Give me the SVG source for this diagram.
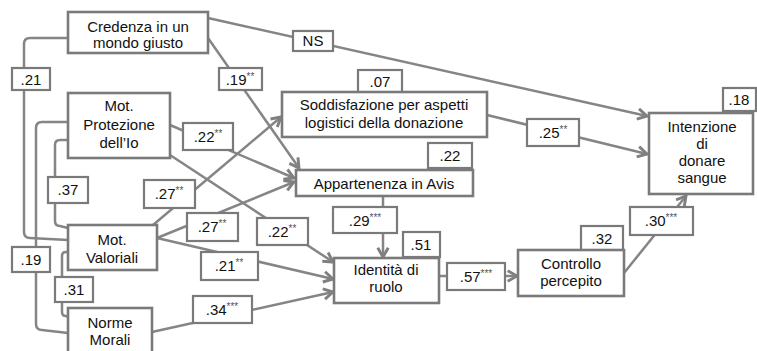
<svg xmlns="http://www.w3.org/2000/svg" width="757" height="351" viewBox="0 0 757 351">
<defs>
<marker id="arr" markerUnits="userSpaceOnUse" markerWidth="14" markerHeight="14" viewBox="0 0 12 12" refX="10" refY="6" orient="auto">
<path d="M2,1.5 L10,6 L2,10.5" fill="none" stroke="#808080" stroke-width="2.5"/>
</marker>
</defs>
<style>
.node{fill:#fff;stroke:#7a7a7a;stroke-width:2.6}
.lab{fill:#fff;stroke:#7a7a7a;stroke-width:2.2}
.t{font-family:"Liberation Sans",Arial,sans-serif;font-size:15px;fill:#111;text-anchor:middle}
.s{font-size:10px;fill:#555}
.c{fill:none;stroke:#858585;stroke-width:2.5}
</style>
<rect width="757" height="351" fill="#fff"/>
<g id="connectors">
<path class="c" d="M68,38 L30,38 Q24,38 24,44 L24,232 Q24,238 30,238 L68,240"/>
<path class="c" d="M68,122 L42,122 Q36,122 36,128 L36,324 Q36,330 42,330 L68,333"/>
<path class="c" d="M68,140 L60,140 Q55,140 55,145 L55,221 Q55,226 60,226 L68,228"/>
<path class="c" d="M68,252 L66,252 Q62,252 62,256 L62,312 Q62,316 66,316 L68,317"/>
<path class="c" d="M208,18 L647,116" marker-end="url(#arr)"/>
<path class="c" d="M208,38 L299,168" marker-end="url(#arr)"/>
<path class="c" d="M170,125 L294,178" marker-end="url(#arr)"/>
<path class="c" d="M170,155 L333,262" marker-end="url(#arr)"/>
<path class="c" d="M153,225 L281,117" marker-end="url(#arr)"/>
<path class="c" d="M157,238 L294,182" marker-end="url(#arr)"/>
<path class="c" d="M157,238 L333,279" marker-end="url(#arr)"/>
<path class="c" d="M152,332 L333,292" marker-end="url(#arr)"/>
<path class="c" d="M487,115 L647,154" marker-end="url(#arr)"/>
<path class="c" d="M383,196 L383,257" marker-end="url(#arr)"/>
<path class="c" d="M439,276 L517,276" marker-end="url(#arr)"/>
<path class="c" d="M624,273 L686,196" marker-end="url(#arr)"/>
</g>
<g id="labels">
<rect class="lab" x="12" y="68" width="38" height="22"/><text class="t" x="31" y="85">.21</text>
<rect class="lab" x="12" y="247" width="38" height="25"/><text class="t" x="31" y="265">.19</text>
<rect class="lab" x="48" y="177" width="40" height="26"/><text class="t" x="68" y="195">.37</text>
<rect class="lab" x="55" y="277" width="38" height="25"/><text class="t" x="74" y="295">.31</text>
<rect class="lab" x="293" y="31" width="40" height="20"/><text class="t" x="313" y="46">NS</text>
<rect class="lab" x="219" y="68" width="43" height="22"/><text class="t" x="240" y="85">.19<tspan class="s" dy="-5">**</tspan></text>
<rect class="lab" x="183" y="123" width="50" height="27"/><text class="t" x="208" y="142">.22<tspan class="s" dy="-5">**</tspan></text>
<rect class="lab" x="144" y="180" width="51" height="28"/><text class="t" x="169" y="199">.27<tspan class="s" dy="-5">**</tspan></text>
<rect class="lab" x="187" y="213" width="51" height="28"/><text class="t" x="212" y="232">.27<tspan class="s" dy="-5">**</tspan></text>
<rect class="lab" x="257" y="218" width="51" height="27"/><text class="t" x="282" y="237">.22<tspan class="s" dy="-5">**</tspan></text>
<rect class="lab" x="201" y="252" width="57" height="28"/><text class="t" x="229" y="271">.21<tspan class="s" dy="-5">**</tspan></text>
<rect class="lab" x="193" y="296" width="59" height="27"/><text class="t" x="222" y="315">.34<tspan class="s" dy="-5">***</tspan></text>
<rect class="lab" x="358" y="70" width="44" height="23"/><text class="t" x="380" y="87">.07</text>
<rect class="lab" x="428" y="143" width="44" height="25"/><text class="t" x="450" y="161">.22</text>
<rect class="lab" x="333" y="207" width="64" height="26"/><text class="t" x="365" y="226">.29<tspan class="s" dy="-5">***</tspan></text>
<rect class="lab" x="403" y="232" width="37" height="25"/><text class="t" x="421" y="250">.51</text>
<rect class="lab" x="447" y="263" width="58" height="27"/><text class="t" x="476" y="282">.57<tspan class="s" dy="-5">***</tspan></text>
<rect class="lab" x="581" y="226" width="42" height="25"/><text class="t" x="602" y="244">.32</text>
<rect class="lab" x="630" y="207" width="63" height="28"/><text class="t" x="661" y="226">.30<tspan class="s" dy="-5">***</tspan></text>
<rect class="lab" x="527" y="119" width="52" height="27"/><text class="t" x="553" y="138">.25<tspan class="s" dy="-5">**</tspan></text>
<rect class="lab" x="723" y="88" width="33" height="23"/><text class="t" x="739" y="105">.18</text>
</g>
<g id="credenza"><rect class="node" x="68" y="12" width="140" height="41"/><text class="t" x="138" y="32">Credenza in un</text><text class="t" x="138" y="48">mondo giusto</text></g>
<g id="protezione"><rect class="node" x="68" y="93" width="102" height="65"/><text class="t" x="119" y="111">Mot.</text><text class="t" x="119" y="130">Protezione</text><text class="t" x="119" y="148">dell’Io</text></g>
<g id="valoriali"><rect class="node" x="68" y="225" width="89" height="45"/><text class="t" x="112" y="245">Mot.</text><text class="t" x="112" y="263">Valoriali</text></g>
<g id="norme"><rect class="node" x="68" y="308" width="84" height="50"/><text class="t" x="110" y="328">Norme</text><text class="t" x="110" y="345">Morali</text></g>
<g id="soddisfazione"><rect class="node" x="282" y="92" width="205" height="45"/><text class="t" x="384" y="110">Soddisfazione per aspetti</text><text class="t" x="384" y="128">logistici della donazione</text></g>
<g id="appartenenza"><rect class="node" x="296" y="170" width="177" height="26"/><text class="t" x="384" y="189">Appartenenza in Avis</text></g>
<g id="identita"><rect class="node" x="334" y="258" width="105" height="45"/><text class="t" x="386" y="275">Identità di</text><text class="t" x="386" y="292">ruolo</text></g>
<g id="controllo"><rect class="node" x="518" y="250" width="106" height="46"/><text class="t" x="571" y="269">Controllo</text><text class="t" x="571" y="286">percepito</text></g>
<g id="intenzione"><rect class="node" x="649" y="113" width="104" height="81"/><text class="t" x="702" y="132">Intenzione</text><text class="t" x="702" y="149">di</text><text class="t" x="702" y="166">donare</text><text class="t" x="702" y="183">sangue</text></g>
</svg>
